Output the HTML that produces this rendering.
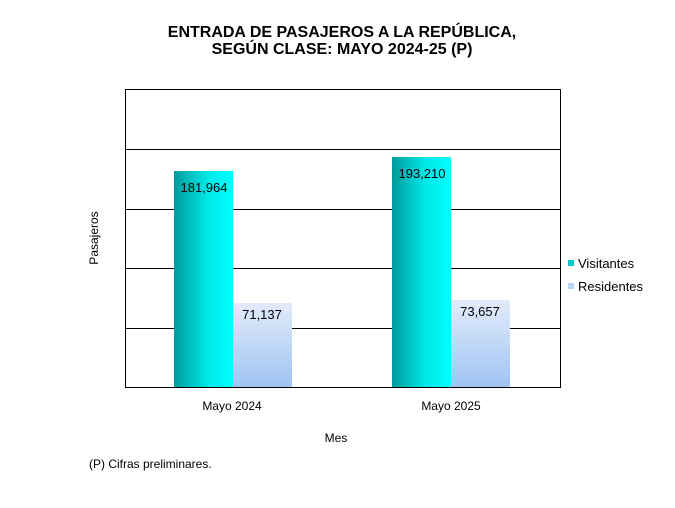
<!DOCTYPE html>
<html><head><style>body{margin:0;background:#fff}svg{display:block}text{font-family:"Liberation Sans",Arial,sans-serif}</style></head><body>
<svg width="675" height="508" xmlns="http://www.w3.org/2000/svg">
<defs>
<linearGradient id="v" x1="0" x2="1" y1="0" y2="0"><stop offset="0" stop-color="#009a9a"/><stop offset="0.55" stop-color="#00e6e6"/><stop offset="1" stop-color="#00ffff"/></linearGradient>
<linearGradient id="r" x1="0" x2="0" y1="0" y2="1"><stop offset="0" stop-color="#e2ebfa"/><stop offset="1" stop-color="#9ec4f4"/></linearGradient>
</defs>
<text x="342" y="37" text-anchor="middle" font-size="16" font-weight="bold">ENTRADA DE PASAJEROS A LA REPÚBLICA,</text>
<text x="342" y="54" text-anchor="middle" font-size="16" font-weight="bold">SEGÚN CLASE: MAYO  2024-25 (P)</text>
<rect x="125.5" y="89.5" width="435" height="298" fill="#fff" stroke="#000"/>
<g stroke="#000"><line x1="125" y1="149.5" x2="560" y2="149.5"/><line x1="125" y1="209.5" x2="560" y2="209.5"/><line x1="125" y1="268.5" x2="560" y2="268.5"/><line x1="125" y1="328.5" x2="560" y2="328.5"/></g>
<rect x="174" y="171" width="59" height="217" fill="url(#v)"/>
<rect x="233" y="303" width="59" height="85" fill="url(#r)"/>
<rect x="392" y="157" width="59" height="231" fill="url(#v)"/>
<rect x="451" y="300" width="59" height="88" fill="url(#r)"/>
<line x1="125" y1="387.5" x2="560" y2="387.5" stroke="#000"/>
<g font-size="13" text-anchor="middle">
<text x="204" y="192">181,964</text><text x="262" y="319">71,137</text>
<text x="422" y="178">193,210</text><text x="480" y="316">73,657</text>
<text x="232" y="410" font-size="12">Mayo 2024</text><text x="451" y="410" font-size="12">Mayo 2025</text>
<text x="336" y="442" font-size="12">Mes</text>
</g>
<text transform="translate(98,238) rotate(-90)" text-anchor="middle" font-size="12">Pasajeros</text>
<rect x="568" y="260" width="6" height="6" fill="#00c8c8"/>
<text x="578" y="268" font-size="13">Visitantes</text>
<rect x="568" y="283" width="6" height="6" fill="#bcd4f6"/>
<text x="578" y="291" font-size="13">Residentes</text>
<text x="89" y="468" font-size="12">(P) Cifras  preliminares.</text>
</svg>
</body></html>
